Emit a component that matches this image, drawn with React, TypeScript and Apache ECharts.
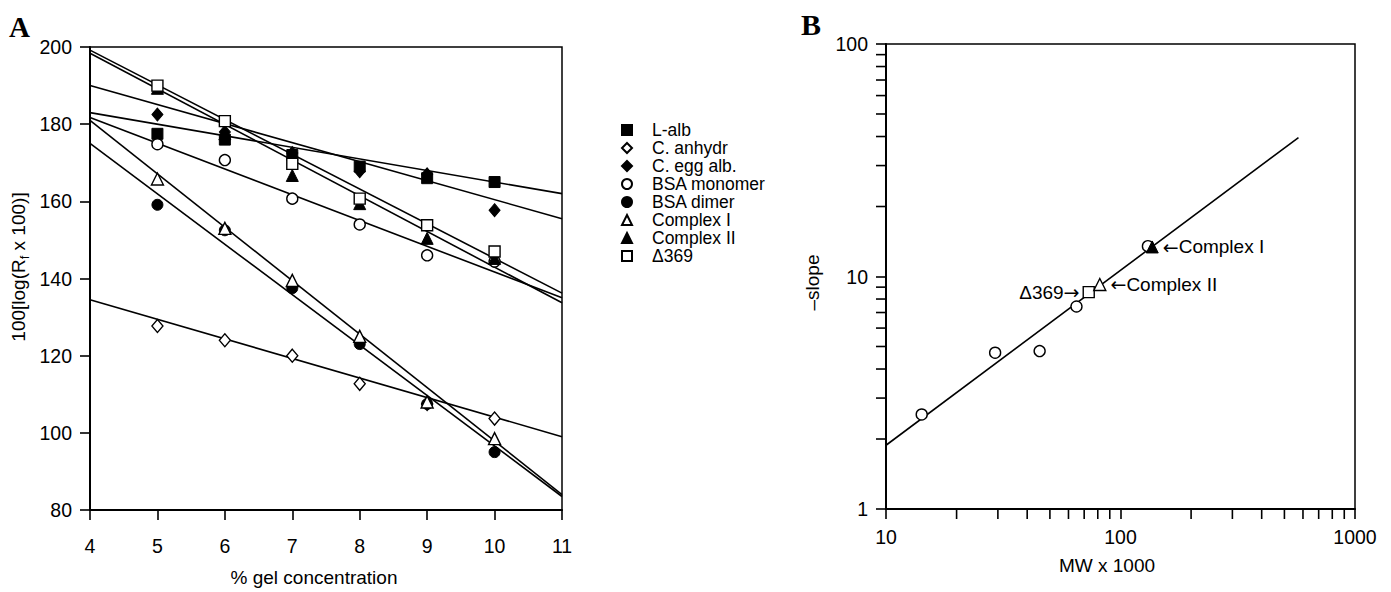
import React, { useEffect, useRef } from "react";
import * as echarts from "echarts";

// ---------- Panel A data ----------
const gelConc = [5, 6, 7, 8, 9, 10];
const gelTicks = [4, 5, 6, 7, 8, 9, 10, 11];
const proteinNames = ["L-alb", "C. anhydr", "C. egg alb.", "BSA monomer", "BSA dimer", "Complex I", "Complex II", "Δ369"];
const lAlb = [177.5, 176, 172, 169, 166, 165];
const cAnhydr = [127.7, 124, 120, 112.7, 107.5, 103.7];
const cEggAlb = [182.5, 178, 172.5, 167.8, 167, 157.7];
const bsaMonomer = [174.8, 170.7, 160.7, 154, 146, 144.4];
const bsaDimer = [159.1, 152.5, 137.5, 123, 107.5, 95];
const complexI = [165.8, 153, 139.5, 125, 108, 98.5];
const complexII = [189.3, 177.5, 166.7, 159.4, 150.4, 145.2];
const delta369 = [190, 180.8, 169.7, 160.7, 153.8, 147];
const fitRangeA = [4, 11];
const fitStartA = [183, 134.5, 190, 181.7, 175, 181, 198.4, 199.2];
const fitEndA = [162, 99, 155.5, 135, 83.5, 84, 133.7, 136.2];

// ---------- Panel B data ----------
const mwStandards = [14.2, 29.2, 45.2, 64.9, 130.9];
const slopeStandards = [2.55, 4.7, 4.78, 7.43, 13.5];
const mwComplexI = [136.6];
const slopeComplexI = [13.4];
const mwComplexII = [81.6];
const slopeComplexII = [9.24];
const mwDelta369 = [73.2];
const slopeDelta369 = [8.57];
const fitMW = [10, 574];
const fitSlope = [1.88, 39.6];
const minorX = [20, 30, 40, 50, 60, 70, 80, 90, 200, 300, 400, 500, 600, 700, 800, 900];
const minorY = [2, 3, 4, 5, 6, 7, 8, 9, 20, 30, 40, 50, 60, 70, 80, 90];

const FONT = "Liberation Sans";

const seriesStyles: Record<string, { symbol: string; size: number | number[]; filled: boolean }> = {
  "L-alb": { symbol: "rect", size: 11, filled: true },
  "C. anhydr": { symbol: "diamond", size: [11, 13], filled: false },
  "C. egg alb.": { symbol: "diamond", size: [11, 13], filled: true },
  "BSA monomer": { symbol: "circle", size: 11, filled: false },
  "BSA dimer": { symbol: "circle", size: 11, filled: true },
  "Complex I": { symbol: "triangle", size: 12, filled: false },
  "Complex II": { symbol: "triangle", size: 12, filled: true },
  "Δ369": { symbol: "rect", size: 11, filled: false },
};

const valuesA = [lAlb, cAnhydr, cEggAlb, bsaMonomer, bsaDimer, complexI, complexII, delta369];

function styleFor(filled: boolean) {
  return filled
    ? { color: "#000", borderColor: "#000", borderWidth: 1, opacity: 1 }
    : { color: "#fff", borderColor: "#000", borderWidth: 1.4, opacity: 1 };
}

const arrowRich = {
  a: { fontFamily: "DejaVu Sans", fontSize: 19, color: "#000" },
  t: { fontFamily: FONT, fontSize: 19, color: "#000" },
};

export default function App() {
  const ref = useRef<HTMLDivElement>(null);
  useEffect(() => {
    if (!ref.current) return;
    const chart = echarts.init(ref.current, undefined, { renderer: "svg" });

    const fitSeriesA = proteinNames.map((n, i) => ({
      type: "line",
      name: "fit " + n,
      xAxisIndex: 0,
      yAxisIndex: 0,
      data: [
        [fitRangeA[0], fitStartA[i]],
        [fitRangeA[1], fitEndA[i]],
      ],
      showSymbol: false,
      symbol: "none",
      lineStyle: { color: "#000", width: 1.6 },
      silent: true,
      z: 2,
    }));

    const pointSeriesA = proteinNames.map((n, i) => {
      const s = seriesStyles[n];
      return {
        type: "scatter",
        name: n,
        xAxisIndex: 0,
        yAxisIndex: 0,
        data: gelConc.map((x, j) => [x, valuesA[i][j]]),
        symbol: s.symbol,
        symbolSize: s.size,
        itemStyle: styleFor(s.filled),
        z: 3 + i,
      };
    });

    const tickLine = (x1: number, y1: number, x2: number, y2: number) => ({
      type: "line",
      shape: { x1, y1, x2, y2 },
      style: { stroke: "#000", lineWidth: 1.6 },
    });

    const option: any = {
      animation: false,
      backgroundColor: "#fff",
      textStyle: { fontFamily: FONT, color: "#000" },
      grid: [
        { left: 90, top: 47, width: 472, height: 467, show: true, borderColor: "#000", borderWidth: 1.5, backgroundColor: "transparent" },
        { left: 886, top: 44, width: 469, height: 465, show: true, borderColor: "#000", borderWidth: 1.5, backgroundColor: "transparent" },
      ],
      legend: {
        orient: "vertical",
        left: 621,
        top: 121,
        padding: 0,
        data: proteinNames,
        itemWidth: 10,
        itemHeight: 10,
        itemGap: 0,
        selectedMode: false,
        textStyle: { fontFamily: FONT, fontSize: 17.5, color: "#000", lineHeight: 17.7, padding: [0, 0, 0, 15] },
      },
      xAxis: [
        {
          type: "value",
          gridIndex: 0,
          min: gelTicks[0],
          max: gelTicks[gelTicks.length - 1],
          interval: 1,
          name: "% gel concentration",
          nameLocation: "middle",
          nameGap: 58,
          nameTextStyle: { fontSize: 19, color: "#000", padding: [0, 24, 0, 0] },
          axisLine: { lineStyle: { color: "#000", width: 2 } },
          axisTick: { inside: false, length: 10, lineStyle: { color: "#000", width: 1.6 } },
          axisLabel: { fontSize: 19.5, color: "#000", margin: 26 },
          splitLine: { show: false },
        },
        {
          type: "log",
          logBase: 10,
          gridIndex: 1,
          min: 10,
          max: 1000,
          name: "MW x 1000",
          nameLocation: "middle",
          nameGap: 47,
          nameTextStyle: { fontSize: 19, color: "#000", padding: [0, 27, 0, 0] },
          axisLine: { lineStyle: { color: "#000", width: 2 } },
          axisTick: { inside: false, length: 10, lineStyle: { color: "#000", width: 1.6 } },
          axisLabel: { fontSize: 19.5, color: "#000", margin: 18, formatter: (v: number) => String(Math.round(v)) },
          splitLine: { show: false },
          minorTick: { show: false },
        },
      ],
      yAxis: [
        {
          type: "value",
          gridIndex: 0,
          min: 80,
          max: 200,
          interval: 20,
          name: "",
          axisLine: { lineStyle: { color: "#000", width: 2 } },
          axisTick: { inside: false, length: 10, lineStyle: { color: "#000", width: 1.6 } },
          axisLabel: { fontSize: 19.5, color: "#000", margin: 18 },
          splitLine: { show: false },
        },
        {
          type: "log",
          logBase: 10,
          gridIndex: 1,
          min: 1,
          max: 100,
          name: "–slope",
          nameLocation: "middle",
          nameGap: 64,
          nameRotate: 90,
          nameTextStyle: { fontSize: 19, color: "#000", padding: [0, 12, 0, 0] },
          axisLine: { lineStyle: { color: "#000", width: 2 } },
          axisTick: { inside: false, length: 10, lineStyle: { color: "#000", width: 1.6 } },
          axisLabel: { fontSize: 19.5, color: "#000", margin: 18, formatter: (v: number) => String(Math.round(v)) },
          splitLine: { show: false },
          minorTick: { show: false },
        },
      ],
      graphic: [
        { type: "text", left: 9, top: 12, style: { text: "A", font: "bold 29px 'Liberation Serif'", fill: "#000" } },
        { type: "text", left: 801, top: 9, style: { text: "B", font: "bold 30px 'Liberation Serif'", fill: "#000" } },
        {
          type: "text",
          x: 18,
          y: 267,
          rotation: Math.PI / 2,
          style: {
            text: "{m|100[log(R}{sub|f}{m| x 100)]}",
            align: "center",
            verticalAlign: "middle",
            fill: "#000",
            fontFamily: FONT,
            fontSize: 19,
            rich: {
              m: { fontFamily: FONT, fontSize: 19, lineHeight: 26, fill: "#000", color: "#000" },
              sub: { fontFamily: FONT, fontSize: 13, lineHeight: 13, verticalAlign: "bottom", fill: "#000", color: "#000" },
            },
          },
        },
      ],
      series: [
        ...fitSeriesA,
        ...pointSeriesA,
        {
          type: "line",
          name: "fit B",
          xAxisIndex: 1,
          yAxisIndex: 1,
          data: fitMW.map((x, i) => [x, fitSlope[i]]),
          showSymbol: false,
          symbol: "none",
          lineStyle: { color: "#000", width: 1.6 },
          silent: true,
          z: 2,
        },
        {
          type: "custom",
          name: "minor x",
          xAxisIndex: 1,
          yAxisIndex: 1,
          clip: false,
          silent: true,
          data: minorX.map((v) => [v, 1]),
          encode: { x: 0, y: 1 },
          renderItem: (_p: any, api: any) => {
            const c = api.coord([api.value(0), api.value(1)]);
            return tickLine(c[0], c[1], c[0], c[1] + 10);
          },
        },
        {
          type: "custom",
          name: "minor y",
          xAxisIndex: 1,
          yAxisIndex: 1,
          clip: false,
          silent: true,
          data: minorY.map((v) => [10, v]),
          encode: { x: 0, y: 1 },
          renderItem: (_p: any, api: any) => {
            const c = api.coord([api.value(0), api.value(1)]);
            return tickLine(c[0] - 10, c[1], c[0], c[1]);
          },
        },
        {
          type: "scatter",
          name: "standards B",
          xAxisIndex: 1,
          yAxisIndex: 1,
          data: mwStandards.map((x, i) => [x, slopeStandards[i]]),
          symbol: "circle",
          symbolSize: 11,
          itemStyle: styleFor(false),
          z: 3,
        },
        {
          type: "scatter",
          name: "delta B",
          xAxisIndex: 1,
          yAxisIndex: 1,
          data: mwDelta369.map((x, i) => [x, slopeDelta369[i]]),
          symbol: "rect",
          symbolSize: 11,
          itemStyle: styleFor(false),
          label: { show: true, formatter: "{t|Δ369}{a|→}", position: "left", distance: 3, color: "#000", rich: arrowRich },
          z: 4,
        },
        {
          type: "scatter",
          name: "complex II B",
          xAxisIndex: 1,
          yAxisIndex: 1,
          data: mwComplexII.map((x, i) => [x, slopeComplexII[i]]),
          symbol: "triangle",
          symbolSize: 12,
          itemStyle: styleFor(false),
          label: { show: true, formatter: "{a|←}{t|Complex II}", position: "right", distance: 4, color: "#000", rich: arrowRich },
          z: 5,
        },
        {
          type: "scatter",
          name: "complex I B",
          xAxisIndex: 1,
          yAxisIndex: 1,
          data: mwComplexI.map((x, i) => [x, slopeComplexI[i]]),
          symbol: "triangle",
          symbolSize: 12,
          itemStyle: styleFor(true),
          label: { show: true, formatter: "{a|←}{t|Complex I}", position: "right", distance: 4, color: "#000", rich: arrowRich },
          z: 6,
        },
      ],
    };

    chart.setOption(option);
    return () => chart.dispose();
  }, []);

  return <div ref={ref} style={{ position: "fixed", left: 0, top: 0, width: 1391, height: 592, background: "#fff" }} />;
}
